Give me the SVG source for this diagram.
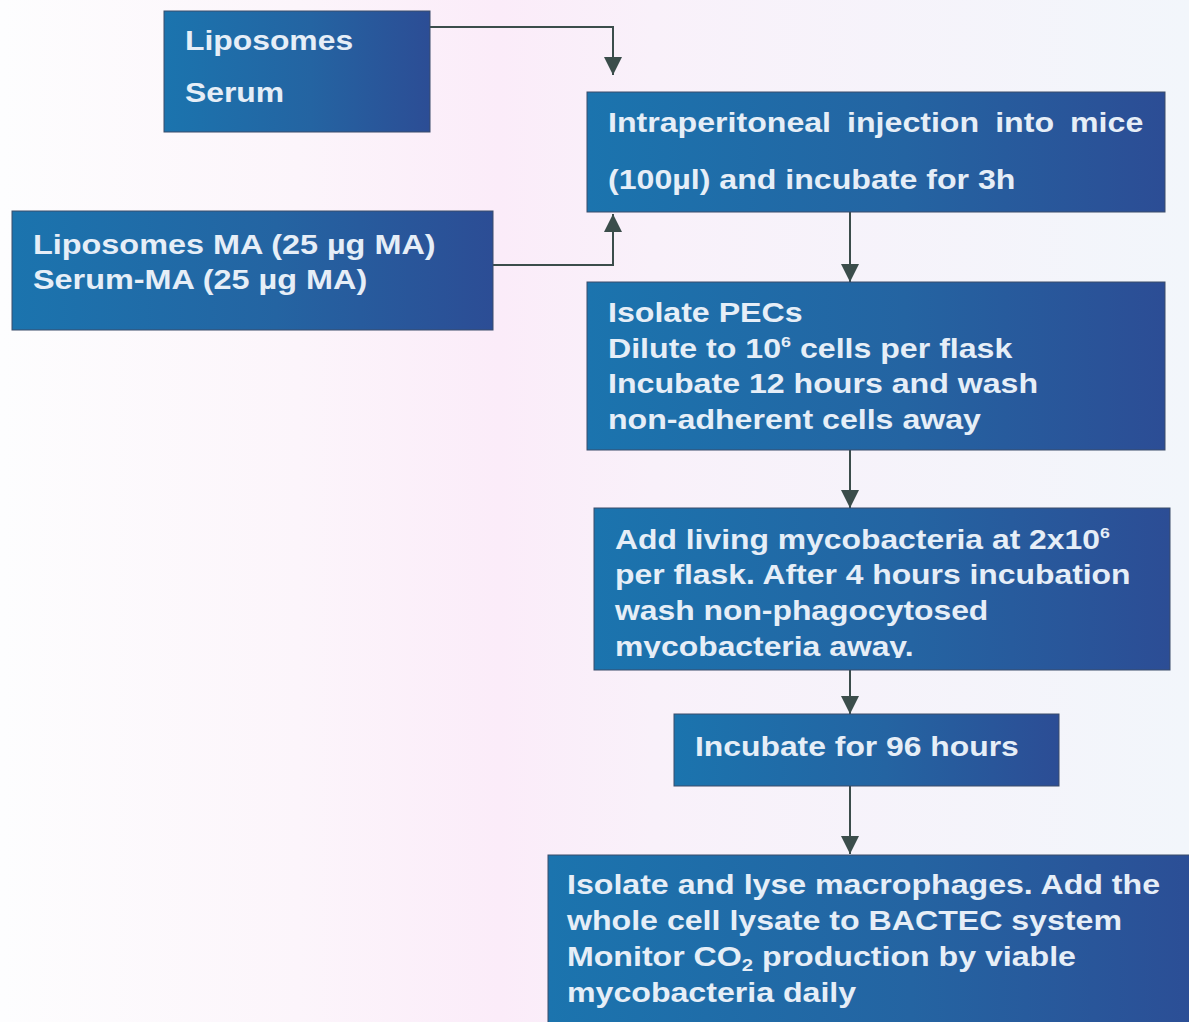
<svg xmlns="http://www.w3.org/2000/svg" width="1189" height="1022" viewBox="0 0 1189 1022">
<defs>
<linearGradient id="bg" x1="0" y1="0" x2="1" y2="0">
<stop offset="0" stop-color="#fdfdfe"/>
<stop offset="0.25" stop-color="#fcf5fb"/>
<stop offset="0.42" stop-color="#fbecf9"/>
<stop offset="0.55" stop-color="#f9f1fa"/>
<stop offset="1" stop-color="#f2f6fb"/>
</linearGradient>
<linearGradient id="box" x1="0" y1="0" x2="1" y2="0">
<stop offset="0" stop-color="#1b74ae"/>
<stop offset="0.55" stop-color="#2464a2"/>
<stop offset="1" stop-color="#2c4d95"/>
</linearGradient>
<marker id="arr" markerUnits="userSpaceOnUse" markerWidth="22" markerHeight="18" viewBox="0 0 22 18" refX="20" refY="9" orient="auto">
<path d="M2,0 L20,9 L2,18 Z" fill="#3b4d4b"/>
</marker>
<clipPath id="clip5"><rect x="594" y="508" width="576" height="150"/></clipPath>
</defs>
<style>
.box{fill:url(#box);stroke:#3a4c6a;stroke-width:1}
.t{font-family:"Liberation Sans",Arial,sans-serif;font-size:27px;font-weight:bold;fill:#e6eef7}
.sup{font-size:15px}
.sub{font-size:17px}
.conn{fill:none;stroke:#3b4d4b;stroke-width:2;marker-end:url(#arr)}
</style>
<rect x="0" y="0" width="1189" height="1022" fill="url(#bg)"/>

<g id="connectors">
<path class="conn" d="M430,27 H613 V75"/>
<path class="conn" d="M493,265 H613 V214"/>
<path class="conn" d="M850,212 V282"/>
<path class="conn" d="M850,450 V508"/>
<path class="conn" d="M850,670 V714"/>
<path class="conn" d="M850,786 V854"/>
</g>

<g id="node-liposomes-serum">
<rect class="box" x="164" y="11" width="266" height="121"/>
<g transform="translate(185 0) scale(1.18 1)">
<text class="t" x="0" y="50">Liposomes</text>
<text class="t" x="0" y="102">Serum</text>
</g>
</g>

<g id="node-ma">
<rect class="box" x="12" y="211" width="481" height="119"/>
<g transform="translate(33 0) scale(1.2 1)">
<text class="t" x="0" y="254">Liposomes MA (25 µg MA)</text>
<text class="t" x="0" y="289">Serum-MA (25 µg MA)</text>
</g>
</g>

<g id="node-injection">
<rect class="box" x="587" y="92" width="578" height="120"/>
<g transform="translate(608 0) scale(1.19 1)">
<text class="t" x="0" y="132" word-spacing="6">Intraperitoneal injection into mice</text>
<text class="t" x="0" y="189">(100µl) and incubate for 3h</text>
</g>
</g>

<g id="node-isolate-pecs">
<rect class="box" x="587" y="282" width="578" height="168"/>
<g transform="translate(608 0) scale(1.19 1)">
<text class="t" x="0" y="322">Isolate PECs</text>
<text class="t" x="0" y="358">Dilute to 10<tspan class="sup" dy="-11">6</tspan><tspan dy="11"> cells per flask</tspan></text>
<text class="t" x="0" y="393">Incubate 12 hours and wash</text>
<text class="t" x="0" y="429">non-adherent cells away</text>
</g>
</g>

<g id="node-mycobacteria">
<rect class="box" x="594" y="508" width="576" height="162"/>
<g clip-path="url(#clip5)">
<g transform="translate(615 0) scale(1.18 1)">
<text class="t" x="0" y="549">Add living mycobacteria at 2x10<tspan class="sup" dy="-11">6</tspan></text>
<text class="t" x="0" y="584">per flask. After 4 hours incubation</text>
<text class="t" x="0" y="620">wash non-phagocytosed</text>
<text class="t" x="0" y="656">mycobacteria away.</text>
</g>
</g>
</g>

<g id="node-incubate-96">
<rect class="box" x="674" y="714" width="385" height="72"/>
<g transform="translate(695 0) scale(1.18 1)">
<text class="t" x="0" y="756">Incubate for 96 hours</text>
</g>
</g>

<g id="node-bactec">
<rect class="box" x="548" y="855" width="660" height="180"/>
<g transform="translate(567 0) scale(1.19 1)">
<text class="t" x="0" y="894">Isolate and lyse macrophages. Add the</text>
<text class="t" x="0" y="930">whole cell lysate to BACTEC system</text>
<text class="t" x="0" y="966">Monitor CO<tspan class="sub" dy="5">2</tspan><tspan dy="-5"> production by viable</tspan></text>
<text class="t" x="0" y="1002">mycobacteria daily</text>
</g>
</g>
</svg>
